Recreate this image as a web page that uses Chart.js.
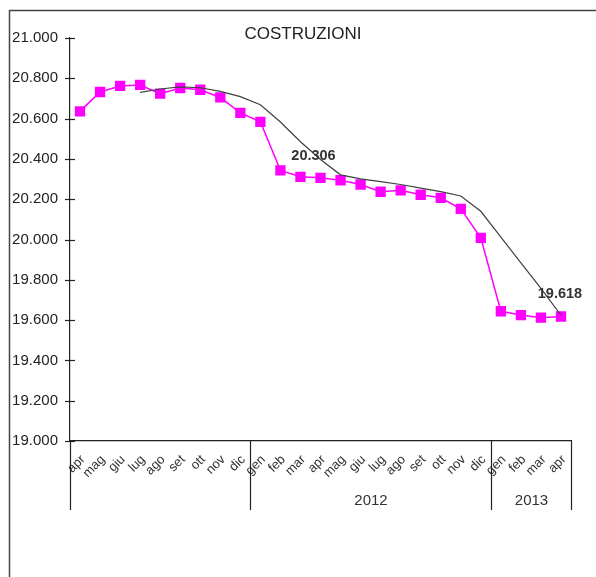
<!DOCTYPE html>
<html>
<head>
<meta charset="utf-8">
<script src="https://cdn.jsdelivr.net/npm/chart.js@4"></script>
<style>
  html, body { margin: 0; padding: 0; background: #fff; }
</style>
</head>
<body>
<canvas id="chart" width="596" height="577"></canvas>
<script>
// months from apr 2011 to apr 2013
const mesi = ['apr', 'mag', 'giu', 'lug', 'ago', 'set', 'ott', 'nov', 'dic',
              'gen', 'feb', 'mar', 'apr', 'mag', 'giu', 'lug', 'ago', 'set', 'ott', 'nov', 'dic',
              'gen', 'feb', 'mar', 'apr'];

const valori = [20636, 20732, 20762, 20767, 20724, 20752, 20743, 20705, 20628,
                20584, 20343, 20311, 20306, 20294, 20273, 20237, 20244, 20222, 20207, 20152, 20008,
                19644, 19625, 19612, 19618];

// trend line, starts in july 2011
const tendenza = [null, null, null, 20730, 20747, 20757, 20753, 20735, 20709,
                  20669, 20583, 20485, 20397, 20321, 20301, 20287, 20273, 20255, 20238, 20216, 20140,
                  20012, 19884, 19757, 19624];

// year groups on the x axis (first index of each group)
const anni = ['', '2012', '2013'];
const inizioAnni = [0, 9, 21];

// points whose value is written on the chart
const conEtichetta = [12, 24];

const yMin = 19000;
const yMax = 21000;
const yPasso = 200;

const titolo = 'COSTRUZIONI';

const fmt = v => (v / 1000).toFixed(3);
const font = "'Liberation Sans', Arial, sans-serif";

const decorazioni = {
    id: 'decorazioni',
    beforeDraw(chart) {
        const ctx = chart.ctx;
        ctx.save();
        ctx.strokeStyle = '#444';
        ctx.lineWidth = 1.5;
        ctx.beginPath();
        ctx.moveTo(9.5, chart.height);
        ctx.lineTo(9.5, 10.5);
        ctx.lineTo(chart.width, 10.5);
        ctx.stroke();
        ctx.restore();
    },
    afterDraw(chart) {
        const { ctx, chartArea, scales } = chart;
        const x = scales.x, y = scales.y;
        ctx.save();
        ctx.strokeStyle = '#222';
        ctx.lineWidth = 1.2;

        // y ticks crossing the axis
        y.ticks.forEach(t => {
            const py = Math.round(y.getPixelForValue(t.value)) + 0.5;
            ctx.beginPath();
            ctx.moveTo(chartArea.left - 5, py);
            ctx.lineTo(chartArea.left + 5, py);
            ctx.stroke();
        });

        // year separators and labels
        const bordi = inizioAnni.concat([mesi.length]);
        const bx = bordi.map(i => Math.round(x.getPixelForValue(i - 0.5)) + 0.5);
        bx.forEach(px => {
            ctx.beginPath();
            ctx.moveTo(px, chartArea.bottom);
            ctx.lineTo(px, chartArea.bottom + 69);
            ctx.stroke();
        });
        ctx.fillStyle = '#333';
        ctx.font = '15px ' + font;
        ctx.textAlign = 'center';
        ctx.textBaseline = 'middle';
        anni.forEach((a, k) => {
            ctx.fillText(a, (bx[k] + bx[k + 1]) / 2, chartArea.bottom + 60);
        });

        // title
        ctx.font = '17px ' + font;
        ctx.fillStyle = '#222';
        ctx.fillText(titolo, 303, 34);

        // value labels
        const meta = chart.getDatasetMeta(1);
        ctx.font = 'bold 14.5px ' + font;
        ctx.fillStyle = '#333';
        const dx = { 12: -7, 24: -1 };
        conEtichetta.forEach(i => {
            const el = meta.data[i];
            ctx.fillText(fmt(valori[i]), el.x + (dx[i] || 0), el.y - 22);
        });
        ctx.restore();
    }
};

new Chart(document.getElementById('chart'), {
    type: 'line',
    data: {
        labels: mesi,
        datasets: [
            {
                label: 'tendenza',
                data: tendenza,
                borderColor: '#404040',
                borderWidth: 1.2,
                pointRadius: 0,
                tension: 0,
                order: 0
            },
            {
                label: 'costruzioni',
                data: valori,
                borderColor: '#ff00ff',
                borderWidth: 1.5,
                pointStyle: 'rect',
                pointRadius: 7.3,
                pointBackgroundColor: '#ff00ff',
                pointBorderWidth: 0,
                tension: 0,
                order: 1
            }
        ]
    },
    options: {
        responsive: false,
        animation: false,
        layout: { padding: { top: 38, right: 25, bottom: 0, left: 0 } },
        plugins: {
            legend: { display: false },
            tooltip: { enabled: false },
            title: { display: false }
        },
        scales: {
            x: {
                offset: true,
                grid: { display: false, drawTicks: false },
                border: { display: true, color: '#222', width: 1.2 },
                ticks: {
                    autoSkip: false,
                    maxRotation: 45,
                    minRotation: 45,
                    padding: 11,
                    labelOffset: 3,
                    color: '#333',
                    font: { family: font, size: 13 }
                },
                afterFit: s => { s.height = 136; }
            },
            y: {
                min: yMin,
                max: yMax,
                grid: { display: false, drawTicks: false },
                border: { display: true, color: '#222', width: 1.2 },
                ticks: {
                    stepSize: yPasso,
                    padding: 12,
                    color: '#222',
                    font: { family: font, size: 15 },
                    callback: v => fmt(v)
                },
                afterFit: s => { s.width = 70; }
            }
        }
    },
    plugins: [decorazioni]
});
</script>
</body>
</html>
